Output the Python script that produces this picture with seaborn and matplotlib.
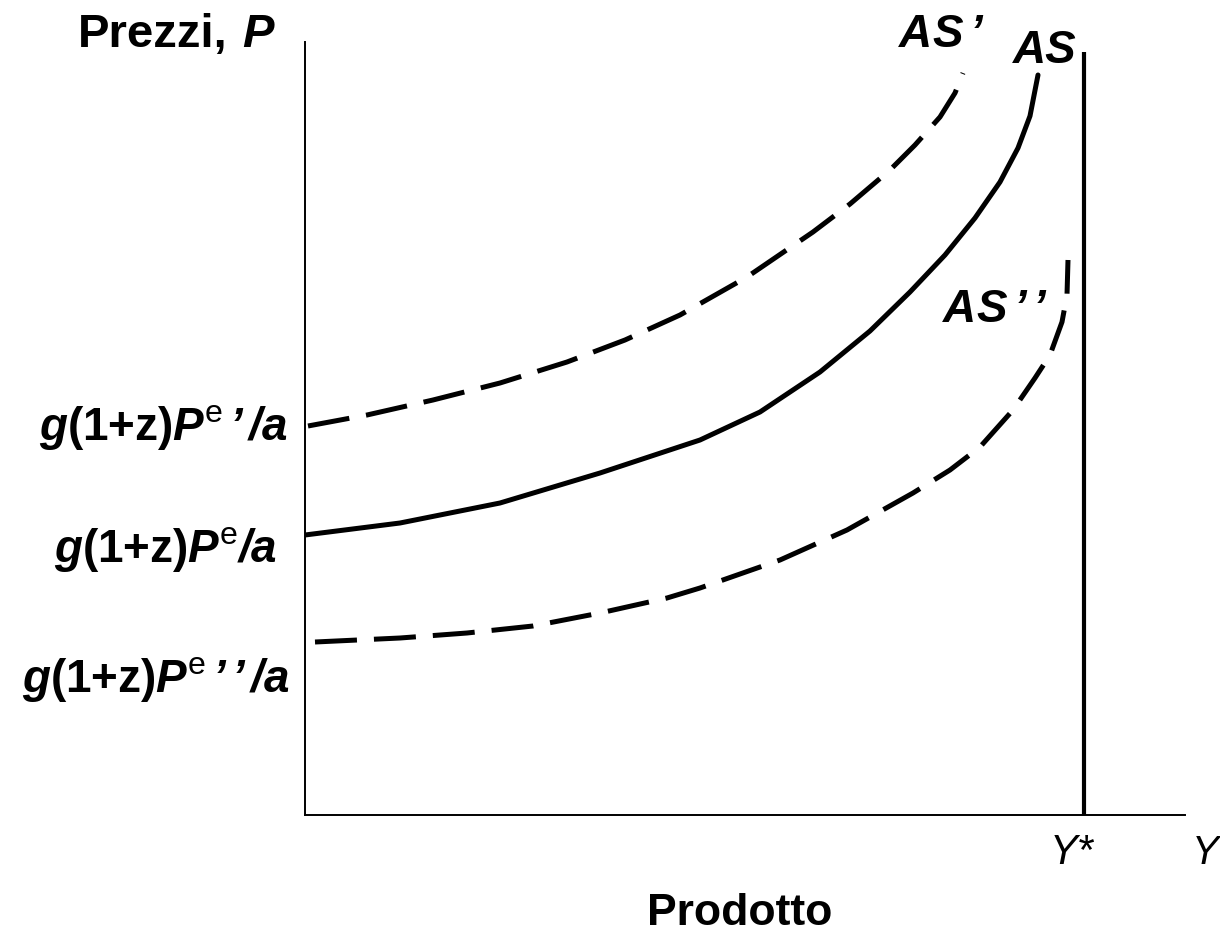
import matplotlib
matplotlib.use("Agg")
import matplotlib.pyplot as plt
import seaborn as sns
import pandas as pd

# ---- data (pixel-like units: output Y -> x, price P -> y) ----
# AS (solid)
as_y = [0, 95, 195, 295, 395, 455, 515, 565, 605, 640, 670, 695, 713, 725, 733]
as_p = [280, 292, 312, 342, 375, 403, 443, 484, 523, 560, 597, 633, 667, 699, 740]
# AS' (dashed, higher expected price)
as1_y = [3, 62, 128, 195, 262, 320, 375, 442, 508, 545, 585, 610, 635, 650, 658]
as1_p = [389, 400, 415, 432, 453, 475, 500, 538, 583, 611, 645, 670, 698, 722, 742]
# AS'' (dashed, lower expected price)
as2_y = [10, 95, 162, 228, 295, 362, 395, 475, 542, 608, 645, 675, 708, 730, 745, 757, 762, 763]
as2_p = [173, 177, 182, 189, 202, 217, 227, 255, 285, 322, 345, 368, 405, 437, 460, 493, 520, 555]

y_star = 779          # position of natural output Y*
y_star_top = 763

sns.set_style("white")
plt.rcParams["mathtext.fontset"] = "custom"
plt.rcParams["mathtext.rm"] = "Liberation Sans"
plt.rcParams["mathtext.bf"] = "Liberation Sans:bold"
plt.rcParams["mathtext.it"] = "Liberation Sans:italic"
plt.rcParams["mathtext.bfit"] = "Liberation Sans:bold:italic"
plt.rcParams["font.family"] = ["Liberation Sans", "DejaVu Sans"]

W, H = 1220, 944
fig = plt.figure(figsize=(W / 100, H / 100), dpi=100)
ax = fig.add_axes([305 / W, 1 - 815 / H, 880 / W, 773 / H])

df = pd.DataFrame({"Y": as_y, "P": as_p})
df1 = pd.DataFrame({"Y": as1_y, "P": as1_p})
df2 = pd.DataFrame({"Y": as2_y, "P": as2_p})

dash = (0, (8.4, 3.4))
sns.lineplot(data=df, x="Y", y="P", sort=False, color="black", lw=3.6, ax=ax)
sns.lineplot(data=df1, x="Y", y="P", sort=False, color="black", lw=3.6,
             linestyle=dash, ax=ax)
sns.lineplot(data=df2, x="Y", y="P", sort=False, color="black", lw=3.6,
             linestyle=dash, ax=ax)
for l in ax.lines:
    l.set_solid_joinstyle("round")
    l.set_dash_joinstyle("round")
ax.vlines(y_star, 0, y_star_top, color="black", lw=3.0)

ax.set_xlim(0, 880)
ax.set_ylim(0, 773)
ax.set_xticks([])
ax.set_yticks([])
ax.set_xlabel("")
ax.set_ylabel("")
for s in ["top", "right"]:
    ax.spines[s].set_visible(False)
for s in ["left", "bottom"]:
    ax.spines[s].set_linewidth(1.4)
    ax.spines[s].set_color("black")

def ft(px, py, s, size, ha="left", va="baseline", **kw):
    fig.text(px / W, 1 - py / H, s, fontsize=size, ha=ha, va=va, color="black", **kw)

ft(78, 47, "Prezzi,", 34, fontweight="bold")
ft(274, 47, "P", 34, ha="right", fontweight="bold", fontstyle="italic")
ft(740, 925, "Prodotto", 32, ha="center", fontweight="bold")
ft(898, 47, r"$\mathbfit{AS\,’}$", 33)
ft(1013, 63, "AS", 33, fontweight="bold", fontstyle="italic")
ft(942, 322, r"$\mathbfit{AS\,’\,’}$", 33)
ft(1050, 864, "Y*", 30, fontstyle="italic")
ft(1192, 864, "Y", 29, fontstyle="italic")

lab1 = r"$\mathbfit{g}\mathbf{(1{+}z)}\mathbfit{P}^{\mathrm{e}}\mathbfit{\,’\,/a}$"
lab0 = r"$\mathbfit{g}\mathbf{(1{+}z)}\mathbfit{P}^{\mathrm{e}}\mathbfit{/a}$"
lab2 = r"$\mathbfit{g}\mathbf{(1{+}z)}\mathbfit{P}^{\mathrm{e}}\mathbfit{\,’\,’\,/a}$"
ft(288, 440, lab1, 33, ha="right")
ft(277, 562, lab0, 33, ha="right")
ft(290, 692, lab2, 33, ha="right")

fig.savefig("out.png", dpi=100)
